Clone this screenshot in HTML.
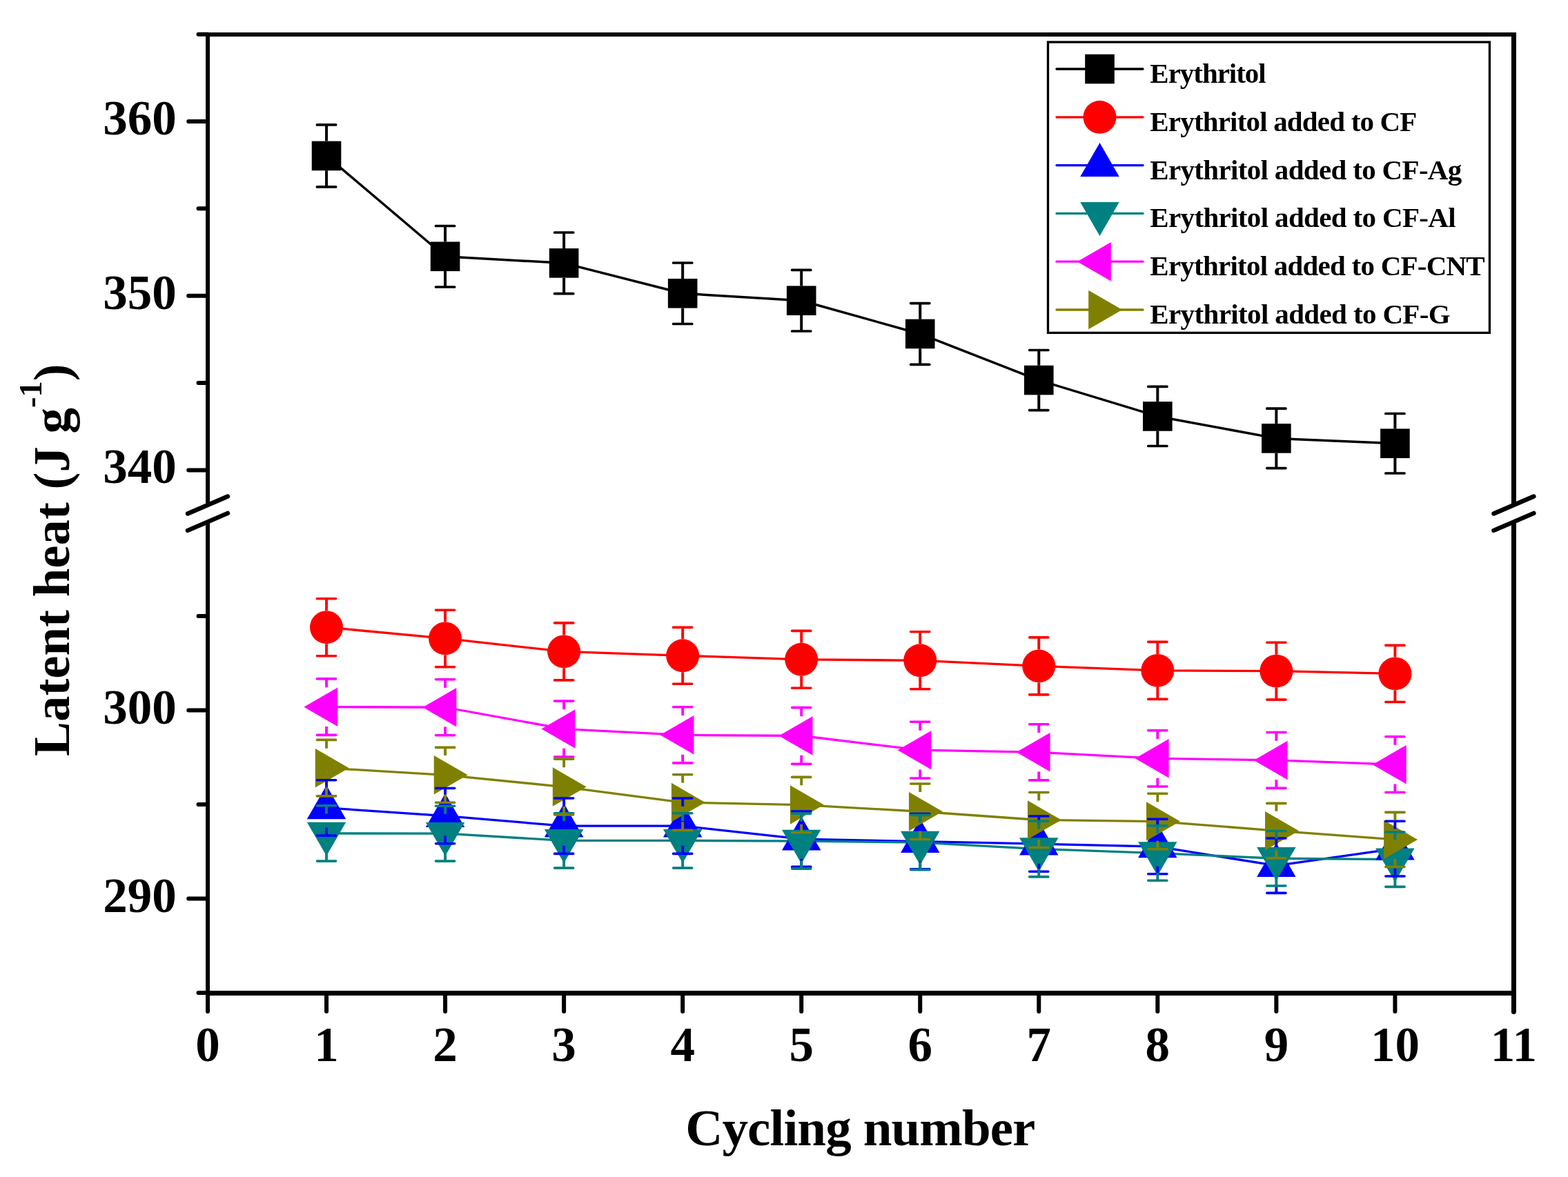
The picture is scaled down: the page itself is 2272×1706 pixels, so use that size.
<!DOCTYPE html>
<html><head><meta charset="utf-8"><title>Latent heat vs cycling number</title>
<style>
html,body{margin:0;padding:0;background:#fff;width:2272px;height:1706px;overflow:hidden}
svg{display:block}
text{font-family:"Liberation Serif","Times New Roman",serif;font-weight:bold;fill:#000}
</style></head><body>
<svg width="2272" height="1706" viewBox="0 0 2272 1706">
<rect width="2272" height="1706" fill="#fff"/>
<polyline points="473.04,225.90 645.08,371.75 817.12,381.35 989.16,425.25 1161.20,435.70 1333.24,483.95 1505.28,551.05 1677.32,603.45 1849.36,635.40 2021.40,642.75" fill="none" stroke="#000000" stroke-width="3.5" stroke-linejoin="round"/>
<polyline points="473.04,909.20 645.08,925.45 817.12,944.40 989.16,950.35 1161.20,955.80 1333.24,957.30 1505.28,965.40 1677.32,971.90 1849.36,972.70 2021.40,976.45" fill="none" stroke="#ff0000" stroke-width="3.3" stroke-linejoin="round"/>
<polyline points="473.04,1170.90 645.08,1182.65 817.12,1197.20 989.16,1197.20 1161.20,1216.20 1333.24,1219.65 1505.28,1223.15 1677.32,1227.05 1849.36,1254.70 2021.40,1230.10" fill="none" stroke="#0000ff" stroke-width="3.3" stroke-linejoin="round"/>
<polyline points="473.04,1207.95 645.08,1208.20 817.12,1218.40 989.16,1218.40 1161.20,1219.10 1333.24,1221.10 1505.28,1230.55 1677.32,1236.60 1849.36,1244.25 2021.40,1245.70" fill="none" stroke="#008080" stroke-width="3.3" stroke-linejoin="round"/>
<polyline points="473.04,1024.65 645.08,1025.25 817.12,1056.55 989.16,1065.35 1161.20,1066.50 1333.24,1087.15 1505.28,1090.30 1677.32,1099.35 1849.36,1101.95 2021.40,1108.15" fill="none" stroke="#ff00ff" stroke-width="3.3" stroke-linejoin="round"/>
<polyline points="473.04,1113.15 645.08,1123.30 817.12,1140.55 989.16,1163.05 1161.20,1166.55 1333.24,1176.25 1505.28,1188.50 1677.32,1190.55 1849.36,1204.15 2021.40,1216.95" fill="none" stroke="#808000" stroke-width="3.3" stroke-linejoin="round"/>
<rect x="451.74" y="204.60" width="42.6" height="42.6" fill="#000000"/>
<rect x="623.78" y="350.45" width="42.6" height="42.6" fill="#000000"/>
<rect x="795.82" y="360.05" width="42.6" height="42.6" fill="#000000"/>
<rect x="967.86" y="403.95" width="42.6" height="42.6" fill="#000000"/>
<rect x="1139.90" y="414.40" width="42.6" height="42.6" fill="#000000"/>
<rect x="1311.94" y="462.65" width="42.6" height="42.6" fill="#000000"/>
<rect x="1483.98" y="529.75" width="42.6" height="42.6" fill="#000000"/>
<rect x="1656.02" y="582.15" width="42.6" height="42.6" fill="#000000"/>
<rect x="1828.06" y="614.10" width="42.6" height="42.6" fill="#000000"/>
<rect x="2000.10" y="621.45" width="42.6" height="42.6" fill="#000000"/>
<circle cx="473.04" cy="909.20" r="24.0" fill="#ff0000"/>
<circle cx="645.08" cy="925.45" r="24.0" fill="#ff0000"/>
<circle cx="817.12" cy="944.40" r="24.0" fill="#ff0000"/>
<circle cx="989.16" cy="950.35" r="24.0" fill="#ff0000"/>
<circle cx="1161.20" cy="955.80" r="24.0" fill="#ff0000"/>
<circle cx="1333.24" cy="957.30" r="24.0" fill="#ff0000"/>
<circle cx="1505.28" cy="965.40" r="24.0" fill="#ff0000"/>
<circle cx="1677.32" cy="971.90" r="24.0" fill="#ff0000"/>
<circle cx="1849.36" cy="972.70" r="24.0" fill="#ff0000"/>
<circle cx="2021.40" cy="976.45" r="24.0" fill="#ff0000"/>
<polygon points="473.04,1138.30 501.27,1187.20 444.81,1187.20" fill="#0000ff"/>
<polygon points="645.08,1150.05 673.31,1198.95 616.85,1198.95" fill="#0000ff"/>
<polygon points="817.12,1164.60 845.35,1213.50 788.89,1213.50" fill="#0000ff"/>
<polygon points="989.16,1164.60 1017.39,1213.50 960.93,1213.50" fill="#0000ff"/>
<polygon points="1161.20,1183.60 1189.43,1232.50 1132.97,1232.50" fill="#0000ff"/>
<polygon points="1333.24,1187.05 1361.47,1235.95 1305.01,1235.95" fill="#0000ff"/>
<polygon points="1505.28,1190.55 1533.51,1239.45 1477.05,1239.45" fill="#0000ff"/>
<polygon points="1677.32,1194.45 1705.55,1243.35 1649.09,1243.35" fill="#0000ff"/>
<polygon points="1849.36,1222.10 1877.59,1271.00 1821.13,1271.00" fill="#0000ff"/>
<polygon points="2021.40,1197.50 2049.63,1246.40 1993.17,1246.40" fill="#0000ff"/>
<polygon points="473.04,1240.55 501.27,1191.65 444.81,1191.65" fill="#008080"/>
<polygon points="645.08,1240.80 673.31,1191.90 616.85,1191.90" fill="#008080"/>
<polygon points="817.12,1251.00 845.35,1202.10 788.89,1202.10" fill="#008080"/>
<polygon points="989.16,1251.00 1017.39,1202.10 960.93,1202.10" fill="#008080"/>
<polygon points="1161.20,1251.70 1189.43,1202.80 1132.97,1202.80" fill="#008080"/>
<polygon points="1333.24,1253.70 1361.47,1204.80 1305.01,1204.80" fill="#008080"/>
<polygon points="1505.28,1263.15 1533.51,1214.25 1477.05,1214.25" fill="#008080"/>
<polygon points="1677.32,1269.20 1705.55,1220.30 1649.09,1220.30" fill="#008080"/>
<polygon points="1849.36,1276.85 1877.59,1227.95 1821.13,1227.95" fill="#008080"/>
<polygon points="2021.40,1278.30 2049.63,1229.40 1993.17,1229.40" fill="#008080"/>
<polygon points="440.44,1024.65 489.34,996.42 489.34,1052.88" fill="#ff00ff"/>
<polygon points="612.48,1025.25 661.38,997.02 661.38,1053.48" fill="#ff00ff"/>
<polygon points="784.52,1056.55 833.42,1028.32 833.42,1084.78" fill="#ff00ff"/>
<polygon points="956.56,1065.35 1005.46,1037.12 1005.46,1093.58" fill="#ff00ff"/>
<polygon points="1128.60,1066.50 1177.50,1038.27 1177.50,1094.73" fill="#ff00ff"/>
<polygon points="1300.64,1087.15 1349.54,1058.92 1349.54,1115.38" fill="#ff00ff"/>
<polygon points="1472.68,1090.30 1521.58,1062.07 1521.58,1118.53" fill="#ff00ff"/>
<polygon points="1644.72,1099.35 1693.62,1071.12 1693.62,1127.58" fill="#ff00ff"/>
<polygon points="1816.76,1101.95 1865.66,1073.72 1865.66,1130.18" fill="#ff00ff"/>
<polygon points="1988.80,1108.15 2037.70,1079.92 2037.70,1136.38" fill="#ff00ff"/>
<polygon points="505.64,1113.15 456.74,1084.92 456.74,1141.38" fill="#808000"/>
<polygon points="677.68,1123.30 628.78,1095.07 628.78,1151.53" fill="#808000"/>
<polygon points="849.72,1140.55 800.82,1112.32 800.82,1168.78" fill="#808000"/>
<polygon points="1021.76,1163.05 972.86,1134.82 972.86,1191.28" fill="#808000"/>
<polygon points="1193.80,1166.55 1144.90,1138.32 1144.90,1194.78" fill="#808000"/>
<polygon points="1365.84,1176.25 1316.94,1148.02 1316.94,1204.48" fill="#808000"/>
<polygon points="1537.88,1188.50 1488.98,1160.27 1488.98,1216.73" fill="#808000"/>
<polygon points="1709.92,1190.55 1661.02,1162.32 1661.02,1218.78" fill="#808000"/>
<polygon points="1881.96,1204.15 1833.06,1175.92 1833.06,1232.38" fill="#808000"/>
<polygon points="2054.00,1216.95 2005.10,1188.72 2005.10,1245.18" fill="#808000"/>
<path d="M473.04 180.90V204.60M473.04 247.20V270.90M645.08 327.50V350.45M645.08 393.05V416.00M817.12 337.00V360.05M817.12 402.65V425.70M989.16 381.00V403.95M989.16 446.55V469.50M1161.20 391.40V414.40M1161.20 457.00V480.00M1333.24 439.60V462.65M1333.24 505.25V528.30M1505.28 507.50V529.75M1505.28 572.35V594.60M1677.32 560.40V582.15M1677.32 624.75V646.50M1849.36 592.20V614.10M1849.36 656.70V678.60M2021.40 599.50V621.45M2021.40 664.05V686.00" fill="none" stroke="#000000" stroke-width="4.0"/>
<path d="M459.44 180.90H486.64M459.44 270.90H486.64M631.48 327.50H658.68M631.48 416.00H658.68M803.52 337.00H830.72M803.52 425.70H830.72M975.56 381.00H1002.76M975.56 469.50H1002.76M1147.60 391.40H1174.80M1147.60 480.00H1174.80M1319.64 439.60H1346.84M1319.64 528.30H1346.84M1491.68 507.50H1518.88M1491.68 594.60H1518.88M1663.72 560.40H1690.92M1663.72 646.50H1690.92M1835.76 592.20H1862.96M1835.76 678.60H1862.96M2007.80 599.50H2035.00M2007.80 686.00H2035.00" fill="none" stroke="#000000" stroke-width="3.7" stroke-linecap="round"/>
<path d="M473.04 867.70V885.20M473.04 933.20V950.70M645.08 884.20V901.45M645.08 949.45V966.70M817.12 902.90V920.40M817.12 968.40V985.90M989.16 909.40V926.35M989.16 974.35V991.30M1161.20 914.40V931.80M1161.20 979.80V997.20M1333.24 915.80V933.30M1333.24 981.30V998.80M1505.28 923.90V941.40M1505.28 989.40V1006.90M1677.32 930.40V947.90M1677.32 995.90V1013.40M1849.36 931.30V948.70M1849.36 996.70V1014.10M2021.40 935.40V952.45M2021.40 1000.45V1017.50" fill="none" stroke="#ff0000" stroke-width="3.9"/>
<path d="M459.44 867.70H486.64M459.44 950.70H486.64M631.48 884.20H658.68M631.48 966.70H658.68M803.52 902.90H830.72M803.52 985.90H830.72M975.56 909.40H1002.76M975.56 991.30H1002.76M1147.60 914.40H1174.80M1147.60 997.20H1174.80M1319.64 915.80H1346.84M1319.64 998.80H1346.84M1491.68 923.90H1518.88M1491.68 1006.90H1518.88M1663.72 930.40H1690.92M1663.72 1013.40H1690.92M1835.76 931.30H1862.96M1835.76 1014.10H1862.96M2007.80 935.40H2035.00M2007.80 1017.50H2035.00" fill="none" stroke="#ff0000" stroke-width="3.6" stroke-linecap="round"/>
<path d="M473.04 1130.70V1142.40M473.04 1199.40V1211.10M645.08 1142.50V1154.15M645.08 1211.15V1222.80M817.12 1157.00V1168.70M817.12 1225.70V1237.40M989.16 1157.00V1168.70M989.16 1225.70V1237.40M1161.20 1176.00V1187.70M1161.20 1244.70V1256.40M1333.24 1179.50V1191.15M1333.24 1248.15V1259.80M1505.28 1183.00V1194.65M1505.28 1251.65V1263.30M1677.32 1187.30V1198.55M1677.32 1255.55V1266.80M1849.36 1215.00V1226.20M1849.36 1283.20V1294.40M2021.40 1190.20V1201.60M2021.40 1258.60V1270.00" fill="none" stroke="#0000ff" stroke-width="3.9"/>
<path d="M459.44 1130.70H486.64M459.44 1211.10H486.64M631.48 1142.50H658.68M631.48 1222.80H658.68M803.52 1157.00H830.72M803.52 1237.40H830.72M975.56 1157.00H1002.76M975.56 1237.40H1002.76M1147.60 1176.00H1174.80M1147.60 1256.40H1174.80M1319.64 1179.50H1346.84M1319.64 1259.80H1346.84M1491.68 1183.00H1518.88M1491.68 1263.30H1518.88M1663.72 1187.30H1690.92M1663.72 1266.80H1690.92M1835.76 1215.00H1862.96M1835.76 1294.40H1862.96M2007.80 1190.20H2035.00M2007.80 1270.00H2035.00" fill="none" stroke="#0000ff" stroke-width="3.6" stroke-linecap="round"/>
<path d="M473.04 1167.80V1179.45M473.04 1236.45V1248.10M645.08 1168.30V1179.70M645.08 1236.70V1248.10M817.12 1178.70V1189.90M817.12 1246.90V1258.10M989.16 1178.70V1189.90M989.16 1246.90V1258.10M1161.20 1179.10V1190.60M1161.20 1247.60V1259.10M1333.24 1181.40V1192.60M1333.24 1249.60V1260.80M1505.28 1190.20V1202.05M1505.28 1259.05V1270.90M1677.32 1196.90V1208.10M1677.32 1265.10V1276.30M1849.36 1204.50V1215.75M1849.36 1272.75V1284.00M2021.40 1206.00V1217.20M2021.40 1274.20V1285.40" fill="none" stroke="#008080" stroke-width="3.9"/>
<path d="M459.44 1167.80H486.64M459.44 1248.10H486.64M631.48 1168.30H658.68M631.48 1248.10H658.68M803.52 1178.70H830.72M803.52 1258.10H830.72M975.56 1178.70H1002.76M975.56 1258.10H1002.76M1147.60 1179.10H1174.80M1147.60 1259.10H1174.80M1319.64 1181.40H1346.84M1319.64 1260.80H1346.84M1491.68 1190.20H1518.88M1491.68 1270.90H1518.88M1663.72 1196.90H1690.92M1663.72 1276.30H1690.92M1835.76 1204.50H1862.96M1835.76 1284.00H1862.96M2007.80 1206.00H2035.00M2007.80 1285.40H2035.00" fill="none" stroke="#008080" stroke-width="3.6" stroke-linecap="round"/>
<path d="M473.04 983.90V996.35M473.04 1052.95V1065.40M645.08 984.80V996.95M645.08 1053.55V1065.70M817.12 1016.10V1028.25M817.12 1084.85V1097.00M989.16 1024.80V1037.05M989.16 1093.65V1105.90M1161.20 1025.60V1038.20M1161.20 1094.80V1107.40M1333.24 1046.30V1058.85M1333.24 1115.45V1128.00M1505.28 1049.70V1062.00M1505.28 1118.60V1130.90M1677.32 1058.70V1071.05M1677.32 1127.65V1140.00M1849.36 1061.50V1073.65M1849.36 1130.25V1142.40M2021.40 1067.80V1079.85M2021.40 1136.45V1148.50" fill="none" stroke="#ff00ff" stroke-width="3.9"/>
<path d="M459.44 983.90H486.64M459.44 1065.40H486.64M631.48 984.80H658.68M631.48 1065.70H658.68M803.52 1016.10H830.72M803.52 1097.00H830.72M975.56 1024.80H1002.76M975.56 1105.90H1002.76M1147.60 1025.60H1174.80M1147.60 1107.40H1174.80M1319.64 1046.30H1346.84M1319.64 1128.00H1346.84M1491.68 1049.70H1518.88M1491.68 1130.90H1518.88M1663.72 1058.70H1690.92M1663.72 1140.00H1690.92M1835.76 1061.50H1862.96M1835.76 1142.40H1862.96M2007.80 1067.80H2035.00M2007.80 1148.50H2035.00" fill="none" stroke="#ff00ff" stroke-width="3.6" stroke-linecap="round"/>
<path d="M473.04 1072.40V1084.85M473.04 1141.45V1153.90M645.08 1083.40V1095.00M645.08 1151.60V1163.20M817.12 1100.10V1112.25M817.12 1168.85V1181.00M989.16 1122.70V1134.75M989.16 1191.35V1203.40M1161.20 1126.40V1138.25M1161.20 1194.85V1206.70M1333.24 1136.00V1147.95M1333.24 1204.55V1216.50M1505.28 1148.50V1160.20M1505.28 1216.80V1228.50M1677.32 1150.30V1162.25M1677.32 1218.85V1230.80M1849.36 1164.40V1175.85M1849.36 1232.45V1243.90M2021.40 1177.40V1188.65M2021.40 1245.25V1256.50" fill="none" stroke="#808000" stroke-width="3.9"/>
<path d="M459.44 1072.40H486.64M459.44 1153.90H486.64M631.48 1083.40H658.68M631.48 1163.20H658.68M803.52 1100.10H830.72M803.52 1181.00H830.72M975.56 1122.70H1002.76M975.56 1203.40H1002.76M1147.60 1126.40H1174.80M1147.60 1206.70H1174.80M1319.64 1136.00H1346.84M1319.64 1216.50H1346.84M1491.68 1148.50H1518.88M1491.68 1228.50H1518.88M1663.72 1150.30H1690.92M1663.72 1230.80H1690.92M1835.76 1164.40H1862.96M1835.76 1243.90H1862.96M2007.80 1177.40H2035.00M2007.80 1256.50H2035.00" fill="none" stroke="#808000" stroke-width="3.6" stroke-linecap="round"/>
<path d="M298.0 50.0H2196.9M301.0 47.0V731.7M301.0 756.7V1442.9" fill="none" stroke="#000" stroke-width="6"/>
<path d="M298.0 1439.4H2196.9M2193.4 47.0V731.7M2193.4 756.7V1442.9" fill="none" stroke="#000" stroke-width="7"/>
<path d="M273.2 176.00H301.0M273.2 428.70H301.0M273.2 681.40H301.0M287.5 49.65H301.0M287.5 302.35H301.0M287.5 555.05H301.0M273.2 1029.50H301.0M273.2 1302.50H301.0M287.5 893.00H301.0M287.5 1166.00H301.0M287.5 1439.00H301.0M301.00 1439.4V1466M473.04 1439.4V1466M645.08 1439.4V1466M817.12 1439.4V1466M989.16 1439.4V1466M1161.20 1439.4V1466M1333.24 1439.4V1466M1505.28 1439.4V1466M1677.32 1439.4V1466M1849.36 1439.4V1466M2021.40 1439.4V1466" fill="none" stroke="#000" stroke-width="6" stroke-linecap="round"/>
<path d="M2193.4 1439.4V1466.5" fill="none" stroke="#000" stroke-width="7" stroke-linecap="round"/>
<path d="M272.0 744.5L330.0 719.5M272.0 768.9L330.0 743.9M2164.4 744.5L2222.4 719.5M2164.4 768.9L2222.4 743.9" fill="none" stroke="#000" stroke-width="6.4" stroke-linecap="round"/>
<text x="255.7" y="195.0" font-size="71" text-anchor="end">360</text>
<text x="255.7" y="447.7" font-size="71" text-anchor="end">350</text>
<text x="255.7" y="700.4" font-size="71" text-anchor="end">340</text>
<text x="255.7" y="1048.5" font-size="71" text-anchor="end">300</text>
<text x="255.7" y="1321.5" font-size="71" text-anchor="end">290</text>
<text x="301.0" y="1538" font-size="71" text-anchor="middle">0</text>
<text x="473.0" y="1538" font-size="71" text-anchor="middle">1</text>
<text x="645.1" y="1538" font-size="71" text-anchor="middle">2</text>
<text x="817.1" y="1538" font-size="71" text-anchor="middle">3</text>
<text x="989.2" y="1538" font-size="71" text-anchor="middle">4</text>
<text x="1161.2" y="1538" font-size="71" text-anchor="middle">5</text>
<text x="1333.2" y="1538" font-size="71" text-anchor="middle">6</text>
<text x="1505.3" y="1538" font-size="71" text-anchor="middle">7</text>
<text x="1677.3" y="1538" font-size="71" text-anchor="middle">8</text>
<text x="1849.4" y="1538" font-size="71" text-anchor="middle">9</text>
<text x="2021.4" y="1538" font-size="71" text-anchor="middle">10</text>
<text x="2193.4" y="1538" font-size="71" text-anchor="middle">11</text>
<text x="993.2" y="1660.2" font-size="75" textLength="507.2" lengthAdjust="spacing">Cycling number</text>
<text transform="translate(99.9 1095.9) rotate(-90)" font-size="74.8">Latent heat (J g<tspan dy="-40" font-size="46.5">-1</tspan><tspan dy="40">)</tspan></text>
<rect x="1518.5" y="61" width="639.9" height="421.4" fill="none" stroke="#000" stroke-width="3.3"/>
<line x1="1531" y1="100" x2="1656" y2="100" stroke="#000000" stroke-width="3.5" stroke-linecap="round"/>
<rect x="1572.20" y="78.70" width="42.6" height="42.6" fill="#000000"/>
<text x="1666.3" y="120" font-size="41" textLength="168.4" lengthAdjust="spacing">Erythritol</text>
<line x1="1531" y1="169.8" x2="1656" y2="169.8" stroke="#ff0000" stroke-width="3.3" stroke-linecap="round"/>
<circle cx="1593.50" cy="169.80" r="24.0" fill="#ff0000"/>
<text x="1666.3" y="189.8" font-size="41" textLength="387.1" lengthAdjust="spacing">Erythritol added to CF</text>
<line x1="1531" y1="239.6" x2="1656" y2="239.6" stroke="#0000ff" stroke-width="3.3" stroke-linecap="round"/>
<polygon points="1593.50,207.00 1621.73,255.90 1565.27,255.90" fill="#0000ff"/>
<text x="1666.3" y="259.6" font-size="41" textLength="452.0" lengthAdjust="spacing">Erythritol added to CF-Ag</text>
<line x1="1531" y1="309.4" x2="1656" y2="309.4" stroke="#008080" stroke-width="3.3" stroke-linecap="round"/>
<polygon points="1593.50,342.00 1621.73,293.10 1565.27,293.10" fill="#008080"/>
<text x="1666.3" y="329.4" font-size="41" textLength="443.4" lengthAdjust="spacing">Erythritol added to CF-Al</text>
<line x1="1531" y1="379.2" x2="1656" y2="379.2" stroke="#ff00ff" stroke-width="3.3" stroke-linecap="round"/>
<polygon points="1560.90,379.20 1609.80,350.97 1609.80,407.43" fill="#ff00ff"/>
<text x="1666.3" y="399.2" font-size="41" textLength="485.4" lengthAdjust="spacing">Erythritol added to CF-CNT</text>
<line x1="1531" y1="449" x2="1656" y2="449" stroke="#808000" stroke-width="3.3" stroke-linecap="round"/>
<polygon points="1626.10,449.00 1577.20,420.77 1577.20,477.23" fill="#808000"/>
<text x="1666.3" y="469" font-size="41" textLength="435.4" lengthAdjust="spacing">Erythritol added to CF-G</text>
</svg>
</body></html>
